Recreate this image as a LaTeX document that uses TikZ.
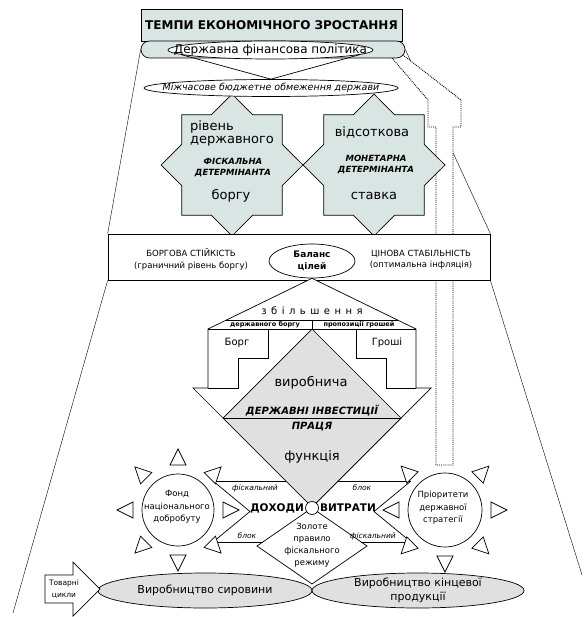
\documentclass[tikz,border=0pt]{standalone}
\usepackage{fontspec}
\setmainfont{DejaVu Sans}
\usetikzlibrary{shapes.geometric,calc,positioning,backgrounds}
\definecolor{tealfill}{RGB}{216,229,227}
\definecolor{greyfill}{RGB}{224,224,224}
\newcommand\fsz[2]{\fontsize{#1}{#2}\selectfont}

\begin{document}
\begin{tikzpicture}[x=1pt,y=-1pt,line width=0.7pt,
    lbl/.style={inner sep=0pt,align=center},
    oval/.style={draw,ellipse,fill=white,inner sep=0pt},
    ray/.style={draw,fill=white}]
  \useasboundingbox (0,0) rectangle (584,617);
  % top: growth rate and finance policy
  \node[draw,fill=tealfill,minimum width=261pt,minimum height=32pt,inner sep=0pt,font=\fsz{12}{14}\bfseries] (title) at (271.5,25) {ТЕМПИ ЕКОНОМІЧНОГО ЗРОСТАННЯ};
  \node[draw,fill=tealfill,rounded corners=8.5pt,minimum width=264pt,minimum height=17pt,inner sep=0pt] (bar) at (273,49.5) {};
  \node[oval,minimum width=205pt,minimum height=18pt] (fin) at (270.5,50) {};
  \node[lbl,font=\fsz{12}{14}] (fintxt) at (fin) {Державна фінансова політика};
  % two determinant stars
  \foreach \cx in {232,374}
    \draw[fill=tealfill] plot[samples at={0,22.5,...,337.5}]
      ({\cx+(71-16.7*mod(round(\x/22.5),2))*cos(\x)},{165+(71-16.7*mod(round(\x/22.5),2))*sin(\x)}) -- cycle;
  \node[lbl,align=left,font=\fsz{13}{13}] (fisk1) at (232,133) {рівень\\державного};
  \node[lbl,font=\fsz{8.5}{11}\bfseries\itshape] (fisk2) at (233,167.5) {ФІСКАЛЬНА\\ДЕТЕРМІНАНТА};
  \node[lbl,font=\fsz{13}{14}] (fisk3) at (231,196) {боргу};
  \node[lbl,font=\fsz{13}{14}] (mon1) at (372,132) {відсоткова};
  \node[lbl,font=\fsz{8.5}{11}\bfseries\itshape] (mon2) at (376,165) {МОНЕТАРНА\\ДЕТЕРМІНАНТА};
  \node[lbl,font=\fsz{13}{14}] (mon3) at (374,196) {ставка};
  \node[oval,minimum width=254pt,minimum height=17pt] (ogr) at (271,88) {};
  \node[lbl,font=\fsz{9.5}{11}\itshape] (ogrtxt) at (ogr) {Міжчасове бюджетне обмеження держави};
  \draw (fin.183) -- (ogr.north) -- (fin.-3);
  % balance of goals
  \node[draw,fill=white,minimum width=382pt,minimum height=46pt,inner sep=0pt] (goal) at (299,257) {};
  \node[lbl,font=\fsz{8.5}{11.5}] (debt) at (191,259.5) {БОРГОВА СТІЙКІСТЬ\\(граничний рівень боргу)};
  \node[lbl,font=\fsz{8.5}{11.5}] (price) at (421,259.5) {ЦІНОВА СТАБІЛЬНІСТЬ\\(оптимальна інфляція)};
  \node[oval,minimum width=86pt,minimum height=34pt] (bal) at (312,261) {};
  \node[lbl,font=\fsz{9}{12}\bfseries] (baltxt) at (bal) {Баланс\\цілей};
  % frame and dotted arrow behind
  \coordinate (lbot) at (13,613);
  \coordinate (rbot) at (582,575);
  \begin{scope}[on background layer]
    \draw (bar.west) -- (goal.north west);
    \draw (goal.south west) -- (lbot);
    \draw (bar.east) -- (goal.north east);
    \draw (goal.south east) -- (rbot);
    \draw[densely dotted,line width=0.9pt,fill=white] (392,58) -- (428,100) -- (428,127) -- (436,127) -- (436,465)
      -- (453,465) -- (453,127) -- (461,127) -- (461,100) -- (403,55);
  \end{scope}
  % big arrow: growth of debt and money supply
  \draw[fill=white] (bal.south) -- (208,329) -- (208,388) -- (193,388) -- (312,507)
    -- (431,388) -- (416,388) -- (416,329) -- cycle;
  \draw (208,329) -- (416,329);
  \draw (226.4,320) -- (397.6,320);
  \draw (312,320) -- (312,329);
  \node[lbl,font=\fsz{10}{12}\addfontfeatures{LetterSpace=45}] (grow) at (312,311) {збільшення};
  \node[lbl,font=\fsz{6.5}{7}\bfseries] (grow1) at (265,324.5) {державного боргу};
  \node[lbl,font=\fsz{6.5}{7}\bfseries] (grow2) at (359,324.5) {пропозиції грошей};
  \draw (268,329) -- (268,358) -- (238,358) -- (238,388) -- (208,388);
  \draw (356,329) -- (356,358) -- (386,358) -- (386,388) -- (416,388);
  \node[lbl,font=\fsz{10}{12}] (borg) at (237,343) {Борг};
  \node[lbl,font=\fsz{10}{12}] (money) at (387,343) {Гроші};
  % production function
  \draw[fill=greyfill] (312,329) -- (223,418) -- (312,507) -- (401,418) -- cycle;
  \draw (223,418) -- (401,418);
  \node[lbl,font=\fsz{13}{14}] (prod1) at (311,383) {виробнича};
  \node[lbl,font=\fsz{10}{12}\bfseries\itshape] (inv) at (312,411) {ДЕРЖАВНІ ІНВЕСТИЦІЇ};
  \node[lbl,font=\fsz{10}{12}\bfseries\itshape] (lab) at (312,427) {ПРАЦЯ};
  \node[lbl,font=\fsz{13}{14}] (prod2) at (312,457) {функція};
  % golden rule and fiscal block
  \draw[fill=white] (312,508) -- (257,546) -- (312,584) -- (367,546) -- cycle;
  \node[lbl,font=\fsz{8.5}{12}] (gold) at (312,545) {Золоте\\правило\\фіскального\\режиму};
  \draw (213,481) -- (286,481);
  \draw (338,481) -- (411,481);
  \draw (213,542) -- (263,542);
  \draw (361,542) -- (411,542);
  \draw (213,481) -- (250,511.5) -- (213,542);
  \draw (411,481) -- (374,511.5) -- (411,542);
  \node[lbl,font=\fsz{7.5}{9}\itshape] (fb1) at (255,488) {фіскальний};
  \node[lbl,font=\fsz{7.5}{9}\itshape] (fb2) at (362,488) {блок};
  \node[lbl,font=\fsz{7.5}{9}\itshape] (fb3) at (247,536) {блок};
  \node[lbl,font=\fsz{7.5}{9}\itshape] (fb4) at (373,536) {фіскальний};
  \node[draw,circle,fill=white,minimum size=13pt,inner sep=0pt] (hub) at (312,508) {};
  \node[lbl,anchor=east,font=\fsz{10.5}{12}\bfseries] (inc) at ([xshift=-1pt]hub.west) {ДОХОДИ};
  \node[lbl,anchor=west,font=\fsz{10.5}{12}\bfseries] (exp) at ([xshift=1pt]hub.east) {ВИТРАТИ};
  % two suns
  \node[draw,circle,fill=white,minimum size=72pt,inner sep=0pt] (fund) at (178,510) {};
  \node[lbl,font=\fsz{8.5}{12.5}] (fundtxt) at (177,507) {Фонд\\національного\\добробуту};
  \node[draw,circle,fill=white,minimum size=74pt,inner sep=0pt] (prio) at (445,510) {};
  \node[lbl,font=\fsz{8.5}{12.5}] (priotxt) at (443,508) {Пріоритети\\державної\\стратегії};
  \foreach \a in {0,45,...,315}
    \draw[ray] ($(fund)+(\a:45)+(\a+90:8)$) -- ($(fund)+(\a:61)$) -- ($(fund)+(\a:45)+(\a-90:8)$) -- cycle;
  \foreach \a in {0,45,90,135,180,225,315}
    \draw[ray] ($(prio)+(\a:46)+(\a+90:8)$) -- ($(prio)+(\a:62)$) -- ($(prio)+(\a:46)+(\a-90:8)$) -- cycle;
  % production sectors
  \node[draw,ellipse,fill=greyfill,minimum width=214pt,minimum height=35pt,inner sep=0pt] (raw) at (205,590.5) {};
  \node[lbl,font=\fsz{11}{14}] (rawtxt) at (raw) {Виробництво сировини};
  \node[draw,ellipse,fill=greyfill,minimum width=212pt,minimum height=35pt,inner sep=0pt] (final) at (418,590.5) {};
  \node[lbl,font=\fsz{11}{13.5}] (finaltxt) at (final) {Виробництво кінцевої\\продукції};
  \draw[fill=white] (45,575) -- (73,575) -- (73,562) -- (100,589) -- (73,616) -- (73,603) -- (45,603) -- cycle;
  \node[lbl,font=\fsz{7.5}{12}] (cyc) at (64,589) {Товарні\\цикли};
\end{tikzpicture}
\end{document}
